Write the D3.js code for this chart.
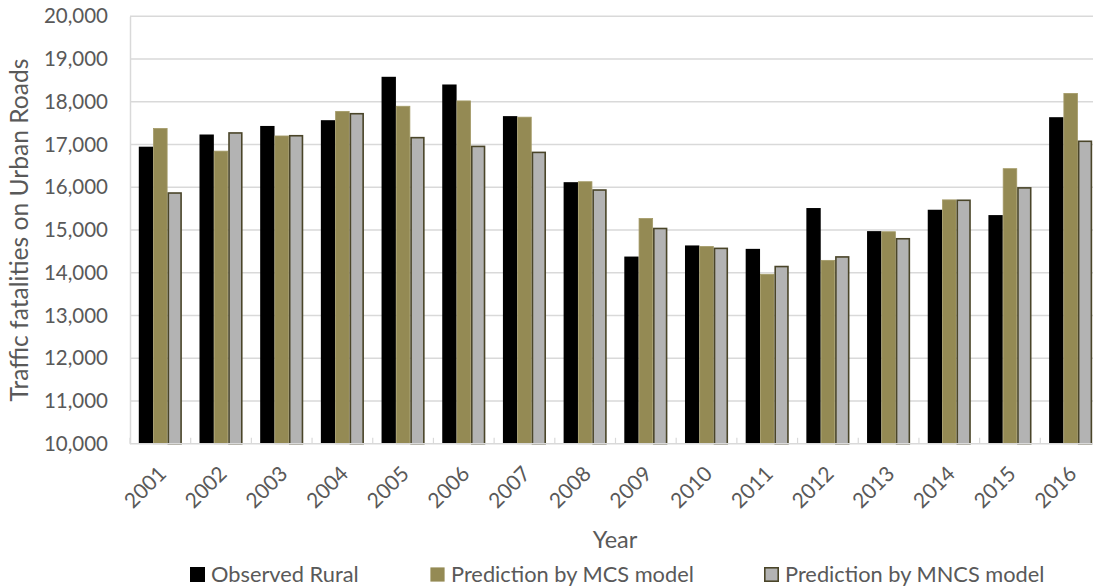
<!DOCTYPE html>
<html>
<head>
<meta charset="utf-8">
<script src="https://cdn.jsdelivr.net/npm/d3@7"></script>
<style>
  html, body { margin: 0; padding: 0; background: #fff; }
  svg { display: block; font-family: Lato, "Open Sans", sans-serif; }
</style>
</head>
<body>
<svg id="chart" width="1093" height="587"></svg>
<script>
// Years on the category axis
const years = ["2001","2002","2003","2004","2005","2006","2007","2008",
               "2009","2010","2011","2012","2013","2014","2015","2016"];

// Series values (traffic fatalities)
const observedRural = [16950, 17235, 17435, 17570, 18585, 18405, 17665, 16120,
                       14380, 14640, 14560, 15515, 14975, 15475, 15350, 17640];
const predictionMCS = [17385, 16855, 17210, 17785, 17905, 18030, 17650, 16140,
                       15280, 14625, 13975, 14300, 14970, 15715, 16445, 18205];
const predictionMNCS = [15885, 17290, 17225, 17740, 17180, 16975, 16835, 15955,
                        15055, 14590, 14165, 14390, 14815, 15715, 16005, 17095];

const seriesNames = ["Observed Rural", "Prediction by MCS model", "Prediction by MNCS model"];
const yTicks = [10000, 11000, 12000, 13000, 14000, 15000, 16000, 17000, 18000, 19000, 20000];

const seriesData = [observedRural, predictionMCS, predictionMNCS];
const fills = ["#000000", "#948A54", "#B3B3B3"];
const strokes = ["#000000", "#A39A66", "#4A4529"];
const strokeWidths = [0, 0.8, 1.6];
const textColor = "#595959";

const svg = d3.select("#chart");
const plotLeft = 130, plotRight = 1101, plotTop = 16.3, plotBottom = 443.8;

const x0 = d3.scaleBand().domain(years).range([plotLeft, plotRight])
  .paddingInner(0.29).paddingOuter(0.145);
const x1 = d3.scaleBand().domain(d3.range(3)).range([0, x0.bandwidth()]);
const y = d3.scaleLinear().domain([10000, 20000]).range([plotBottom, plotTop]);

// Horizontal gridlines
svg.append("g").selectAll("line").data(yTicks.slice(1)).join("line")
  .attr("x1", plotLeft).attr("x2", 1093)
  .attr("y1", d => y(d)).attr("y2", d => y(d))
  .attr("stroke", "#D9D9D9").attr("stroke-width", 1.5);

// Y axis
const yAxis = svg.append("g").attr("transform", `translate(${plotLeft},0)`)
  .call(d3.axisLeft(y).tickValues(yTicks).tickFormat(d3.format(",")).tickSize(0).tickPadding(22));
yAxis.select(".domain").attr("stroke", "#D9D9D9").attr("stroke-width", 1.5);
yAxis.selectAll("text").attr("fill", textColor).attr("font-size", 20.5)
  .attr("font-family", "Lato, 'Open Sans', sans-serif");

// Bars
const groups = svg.append("g").selectAll("g").data(years).join("g")
  .attr("transform", d => `translate(${x0(d)},0)`);
groups.selectAll("rect")
  .data((d, i) => seriesData.map((s, k) => ({ k, v: s[i] })))
  .join("rect")
  .attr("x", d => x1(d.k) + strokeWidths[d.k] / 2)
  .attr("width", d => x1.bandwidth() - strokeWidths[d.k])
  .attr("y", d => y(d.v) + strokeWidths[d.k] / 2)
  .attr("height", d => y(10000) - y(d.v) - strokeWidths[d.k] / 2)
  .attr("fill", d => fills[d.k])
  .attr("stroke", d => strokeWidths[d.k] ? strokes[d.k] : "none")
  .attr("stroke-width", d => strokeWidths[d.k]);

// X axis line and tick marks between categories
svg.append("line").attr("x1", plotLeft).attr("x2", 1093)
  .attr("y1", plotBottom).attr("y2", plotBottom)
  .attr("stroke", "#D9D9D9").attr("stroke-width", 1.5);
const step = x0.step();
svg.append("g").selectAll("line").data(d3.range(years.length + 1)).join("line")
  .attr("x1", i => plotLeft + i * step).attr("x2", i => plotLeft + i * step)
  .attr("y1", plotBottom).attr("y2", plotBottom - 6)
  .attr("stroke", "#D9D9D9").attr("stroke-width", 1.2);

// Rotated year labels
svg.append("g").selectAll("text").data(years).join("text")
  .attr("transform", d => `translate(${x0(d) + x0.bandwidth() / 2 + 2},${plotBottom + 26}) rotate(-45)`)
  .attr("text-anchor", "end")
  .attr("dy", "0.35em")
  .attr("fill", textColor).attr("font-size", 21)
  .text(d => d);

// Axis titles
svg.append("text").attr("x", 615).attr("y", 548)
  .attr("text-anchor", "middle").attr("fill", textColor).attr("font-size", 23.5)
  .text("Year");
svg.append("text")
  .attr("transform", `translate(28,230) rotate(-90)`)
  .attr("text-anchor", "middle").attr("fill", textColor).attr("font-size", 24.6)
  .text("Traffic fatalities on Urban Roads");

// Legend
const legendX = [190, 430, 764];
const legend = svg.append("g").selectAll("g").data(seriesNames).join("g")
  .attr("transform", (d, i) => `translate(${legendX[i]},567)`);
legend.append("rect")
  .attr("x", (d, i) => strokeWidths[i] / 2).attr("y", (d, i) => strokeWidths[i] / 2)
  .attr("width", (d, i) => 15 - strokeWidths[i]).attr("height", (d, i) => 15 - strokeWidths[i])
  .attr("fill", (d, i) => fills[i])
  .attr("stroke", (d, i) => i === 2 ? strokes[i] : "none")
  .attr("stroke-width", (d, i) => strokeWidths[i]);
legend.append("text").attr("x", 21).attr("y", 15)
  .attr("fill", textColor).attr("font-size", 21.8)
  .text(d => d);
</script>
</body>
</html>
